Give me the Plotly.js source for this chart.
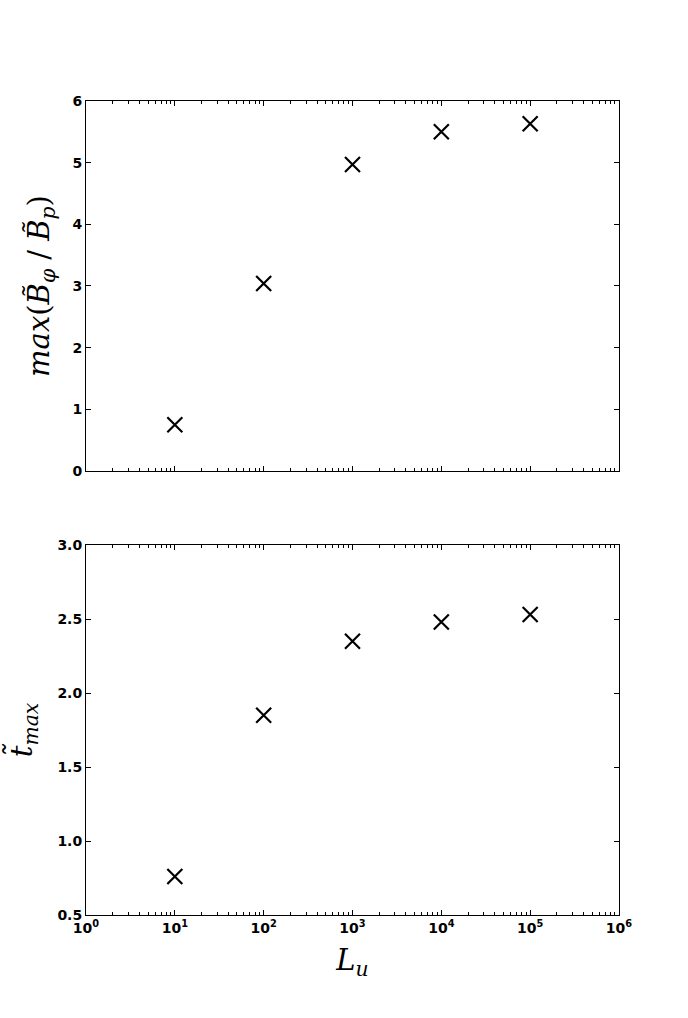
<!DOCTYPE html>
<html>
<head>
<meta charset="utf-8">
<script src="https://cdn.plot.ly/plotly-3.0.1.min.js"></script>
<style>html,body{margin:0;padding:0;background:#fff;}#plot{width:688px;height:1018px;}</style>
</head>
<body>
<div id="plot"></div>
<script>
const luValues = [10, 100, 1000, 10000, 100000];
const ratioMax = [0.75, 3.04, 4.97, 5.50, 5.63];
const tMax = [0.76, 1.85, 2.35, 2.48, 2.53];
const xTickVals = [1, 10, 100, 1000, 10000, 100000, 1000000];
const xTickText = ["10<sup>0</sup>", "10<sup>1</sup>", "10<sup>2</sup>", "10<sup>3</sup>", "10<sup>4</sup>", "10<sup>5</sup>", "10<sup>6</sup>"];
const topYTicks = [0, 1, 2, 3, 4, 5, 6];
const botYTicks = [0.5, 1.0, 1.5, 2.0, 2.5, 3.0];
const botYText = ["0.5", "1.0", "1.5", "2.0", "2.5", "3.0"];

const minorVals = [];
for (let k = 0; k < 6; k++) for (let d = 2; d <= 9; d++) minorVals.push(d * Math.pow(10, k));

const tickFont = {family: "DejaVu Sans", size: 14, color: "#000", weight: "bold"};
const titleFont = {family: "DejaVu Serif", size: 29, color: "#000"};
const markerStyle = {symbol: "x-thin", size: 15, color: "#000", line: {width: 2.2, color: "#000"}};

const baseAxis = {
  showline: true, linecolor: "#000", linewidth: 1, mirror: "allticks",
  ticks: "inside", ticklen: 5, tickwidth: 1, tickcolor: "#000",
  showgrid: false, zeroline: false, tickfont: tickFont
};

const xBase = Object.assign({}, baseAxis, {
  type: "log", range: [0, 6], tickmode: "array", tickvals: xTickVals, ticktext: xTickText,
  minor: {ticks: "inside", ticklen: 3, tickwidth: 1, tickcolor: "#000", tickmode: "array", tickvals: minorVals, showgrid: false}
});

const traces = [
  {x: luValues, y: ratioMax, xaxis: "x2", yaxis: "y2", mode: "markers", type: "scatter", marker: markerStyle, hoverinfo: "skip"},
  {x: luValues, y: tMax, xaxis: "x", yaxis: "y", mode: "markers", type: "scatter", marker: markerStyle, hoverinfo: "skip"}
];

const layout = {
  width: 688, height: 1018,
  margin: {l: 86, r: 69, t: 101, b: 103},
  paper_bgcolor: "#fff", plot_bgcolor: "#fff",
  showlegend: false,
  xaxis: Object.assign({}, xBase, {
    anchor: "y", domain: [0, 1],
    title: {text: "<i>L</i><sub><i>u</i></sub>", font: titleFont, standoff: 14}
  }),
  xaxis2: Object.assign({}, xBase, {anchor: "y2", domain: [0, 1], showticklabels: false}),
  yaxis: Object.assign({}, baseAxis, {
    anchor: "x", domain: [0, 0.4545], range: [0.5, 3.0],
    tickmode: "array", tickvals: botYTicks, ticktext: botYText,
    title: {text: "<i>t\u0303</i><sub><i>max</i></sub>", font: titleFont, standoff: 16}
  }),
  yaxis2: Object.assign({}, baseAxis, {
    anchor: "x2", domain: [0.5455, 1], range: [0, 6],
    tickmode: "array", tickvals: topYTicks,
    title: {text: "<i>max</i>(<i>B\u0303</i><sub><i>\u03c6</i></sub> / <i>B\u0303</i><sub><i>p</i></sub>)", font: titleFont, standoff: 14}
  })
};

Plotly.newPlot("plot", traces, layout, {staticPlot: true, displayModeBar: false});
</script>
</body>
</html>
